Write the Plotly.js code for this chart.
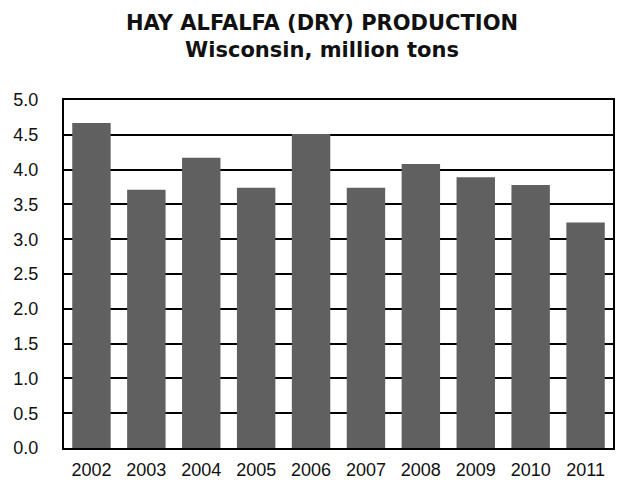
<!DOCTYPE html>
<html><head><meta charset="utf-8">
<script src="https://cdn.plot.ly/plotly-3.0.1.min.js"></script>
<style>html,body{margin:0;padding:0;background:#fff}#c{width:621px;height:482px}</style>
</head><body><div id="c"></div>
<script>
const years = ['2002','2003','2004','2005','2006','2007','2008','2009','2010','2011'];
const production = [4.67, 3.71, 4.17, 3.74, 4.51, 3.74, 4.08, 3.89, 3.78, 3.24];
const titleLine1 = 'HAY ALFALFA (DRY) PRODUCTION';
const titleLine2 = 'Wisconsin, million tons';

const trace = {
  type: 'bar', x: years, y: production,
  marker: {color: '#606060', line: {width: 0}},
  hoverinfo: 'x+y'
};
const layout = {
  width: 621, height: 482,
  margin: {l: 64, r: 8, t: 100, b: 34},
  paper_bgcolor: '#fff', plot_bgcolor: '#fff',
  showlegend: false, bargap: 0.3,
  font: {family: 'Liberation Sans, Arial, sans-serif', size: 18, color: '#111'},
  xaxis: {type: 'category', showgrid: false, showline: true, mirror: true,
          linecolor: '#000', linewidth: 2, ticks: '', ticklabelstandoff: 4,
          tickfont: {size: 18}},
  yaxis: {range: [0, 5], dtick: 0.5, tick0: 0, tickformat: '.1f',
          showgrid: true, gridcolor: '#000', gridwidth: 2, zeroline: false,
          showline: true, mirror: true, linecolor: '#000', linewidth: 2,
          ticks: '', ticklabelstandoff: 20, tickfont: {size: 18}},
  annotations: [
    {text: '<b>' + titleLine1 + '<br>' + titleLine2 + '</b>',
     xref: 'paper', yref: 'paper', x: 0.47, y: 1, yshift: 64,
     xanchor: 'center', yanchor: 'middle', align: 'center', showarrow: false,
     font: {family: 'DejaVu Sans, sans-serif', size: 21, color: '#111'}}
  ]
};
Plotly.newPlot('c', [trace], layout, {displayModeBar: false, staticPlot: true});
</script></body></html>
